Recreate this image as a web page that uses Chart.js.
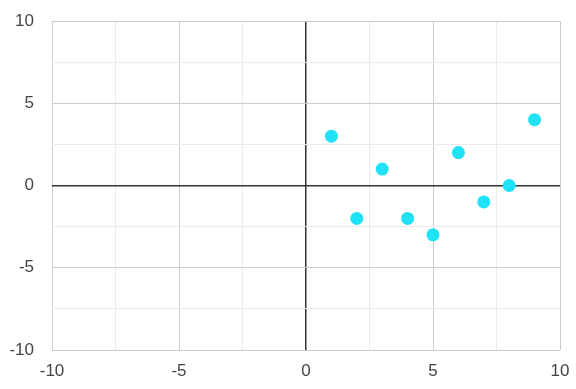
<!DOCTYPE html>
<html><head><meta charset="utf-8">
<script src="https://cdn.jsdelivr.net/npm/chart.js@4/dist/chart.umd.min.js"></script>
<style>html,body{margin:0;padding:0;background:#fff}#wrap{width:576px;height:389px}</style>
</head><body><div id="wrap"><canvas id="c" width="576" height="389"></canvas></div>
<script>
const xValues = [1, 2, 3, 4, 5, 6, 7, 8, 9];
const yValues = [3, -2, 1, -2, -3, 2, -1, 0, 4];
const axisMin = -10, axisMax = 10, gridStep = 2.5, labelStep = 5;

const points = xValues.map((x, i) => ({x: x, y: yValues[i]}));
function gridColor(ctx) {
  const v = ctx.tick ? ctx.tick.value : 0;
  if (Math.abs(v) < 1e-9) return '#333333';
  if (Math.abs(v % labelStep) < 1e-9) return '#cccccc';
  return '#ebebeb';
}
function gridWidth(ctx) {
  const v = ctx.tick ? ctx.tick.value : 0;
  return Math.abs(v) < 1e-9 ? 1.5 : 1;
}
const tickCb = v => (Math.abs(v % labelStep) < 1e-9 ? String(v) : '');
const font = {family: '"Liberation Sans", Arial, sans-serif', size: 17};
new Chart(document.getElementById('c'), {
  type: 'scatter',
  data: {datasets: [{data: points, backgroundColor: '#1fe2f6', borderWidth: 0, pointRadius: 6.5, pointHoverRadius: 6.5}]},
  options: {
    responsive: false, animation: false,
    layout: {padding: {left: 0, right: 16, top: 21, bottom: 0}},
    plugins: {legend: {display: false}, tooltip: {enabled: false}},
    scales: {
      x: {type: 'linear', min: axisMin, max: axisMax,
        ticks: {stepSize: gridStep, callback: tickCb, color: '#444', font: font, padding: 11, maxRotation: 0, autoSkip: false},
        grid: {color: gridColor, lineWidth: gridWidth, drawTicks: false},
        border: {display: false},
        afterFit: s => { s.height = 39; s.paddingLeft = 0; s.paddingRight = 0; }},
      y: {type: 'linear', min: axisMin, max: axisMax,
        ticks: {stepSize: gridStep, callback: tickCb, color: '#444', font: font, padding: 18, autoSkip: false},
        grid: {color: gridColor, lineWidth: gridWidth, drawTicks: false},
        border: {display: false},
        afterFit: s => { s.width = 52; s.paddingTop = 0; s.paddingBottom = 0; }}
    }
  }
});
</script></body></html>
